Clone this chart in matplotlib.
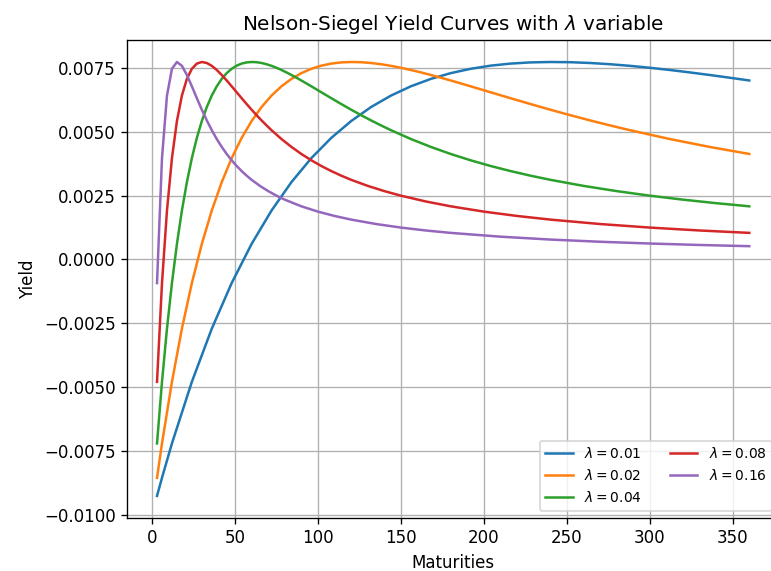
import matplotlib
matplotlib.use("Agg")
import matplotlib.pyplot as plt

labels = [r"$\lambda=0.01$", r"$\lambda=0.02$", r"$\lambda=0.04$", r"$\lambda=0.08$", r"$\lambda=0.16$"]

mat_001 = [3, 6, 12, 24, 36, 48, 60, 72, 84, 96, 108, 120, 132, 144, 156, 168, 180, 192, 204, 216, 228,
           240, 252, 264, 276, 288, 300, 312, 324, 336, 348, 360]
yld_001 = [-0.009263, -0.008553, -0.007207, -0.004794, -0.002713, -0.000925, 0.000607, 0.001915, 0.003028,
           0.003969, 0.004761, 0.005422, 0.005971, 0.006420, 0.006784, 0.007074, 0.007300, 0.007470, 0.007593,
           0.007674, 0.007721, 0.007737, 0.007729, 0.007698, 0.007650, 0.007587, 0.007511, 0.007425, 0.007330,
           0.007229, 0.007123, 0.007013]

mat_002 = [3, 6, 12, 18, 24, 30, 36, 42, 48, 54, 60, 66, 72, 78, 84, 90, 96, 102, 108, 114, 120, 126, 132,
           138, 144, 150, 156, 162, 168, 174, 180, 192, 204, 216, 228, 240, 252, 264, 276, 288, 312, 336, 360]
yld_002 = [-0.008553, -0.007207, -0.004794, -0.002713, -0.000925, 0.000607, 0.001915, 0.003028, 0.003969,
           0.004761, 0.005422, 0.005971, 0.006420, 0.006784, 0.007074, 0.007300, 0.007470, 0.007593, 0.007674,
           0.007721, 0.007737, 0.007729, 0.007698, 0.007650, 0.007587, 0.007511, 0.007425, 0.007330, 0.007229,
           0.007123, 0.007013, 0.006785, 0.006552, 0.006320, 0.006092, 0.005869, 0.005655, 0.005449, 0.005253,
           0.005066, 0.004720, 0.004411, 0.004134]

mat_004 = [3, 6, 9, 12, 15, 18, 21, 24, 27, 30, 33, 36, 39, 42, 45, 48, 51, 54, 57, 60, 63, 66, 69, 72, 75,
           78, 81, 84, 87, 90, 96, 102, 108, 114, 120, 126, 132, 138, 144, 156, 168, 180, 192, 204, 216, 228,
           240, 260, 280, 300, 320, 340, 360]
yld_004 = [-0.007207, -0.004794, -0.002713, -0.000925, 0.000607, 0.001915, 0.003028, 0.003969, 0.004761,
           0.005422, 0.005971, 0.006420, 0.006784, 0.007074, 0.007300, 0.007470, 0.007593, 0.007674, 0.007721,
           0.007737, 0.007729, 0.007698, 0.007650, 0.007587, 0.007511, 0.007425, 0.007330, 0.007229, 0.007123,
           0.007013, 0.006785, 0.006552, 0.006320, 0.006092, 0.005869, 0.005655, 0.005449, 0.005253, 0.005066,
           0.004720, 0.004411, 0.004134, 0.003886, 0.003664, 0.003465, 0.003285, 0.003122, 0.002884, 0.002679,
           0.002500, 0.002344, 0.002206, 0.002083]

mat_008 = [3, 6, 9, 12, 15, 18, 21, 24, 27, 30, 33, 36, 39, 42, 45, 48, 51, 54, 57, 60, 63, 66, 69, 72, 78,
           84, 90, 96, 102, 108, 114, 120, 130, 140, 150, 165, 180, 200, 220, 240, 270, 300, 330, 360]
yld_008 = [-0.004794, -0.000925, 0.001915, 0.003969, 0.005422, 0.006420, 0.007074, 0.007470, 0.007674,
           0.007737, 0.007698, 0.007587, 0.007425, 0.007229, 0.007013, 0.006785, 0.006552, 0.006320, 0.006092,
           0.005869, 0.005655, 0.005449, 0.005253, 0.005066, 0.004720, 0.004411, 0.004134, 0.003886, 0.003664,
           0.003465, 0.003285, 0.003122, 0.002884, 0.002679, 0.002500, 0.002273, 0.002083, 0.001875, 0.001705,
           0.001563, 0.001389, 0.001250, 0.001136, 0.001042]

mat_016 = [3, 6, 9, 12, 15, 18, 21, 24, 27, 30, 33, 36, 39, 42, 45, 48, 51, 54, 57, 60, 65, 70, 75, 80, 90,
           100, 110, 120, 135, 150, 165, 180, 210, 240, 270, 300, 330, 360]
yld_016 = [-0.000925, 0.003969, 0.006420, 0.007470, 0.007737, 0.007587, 0.007229, 0.006785, 0.006320,
           0.005869, 0.005449, 0.005066, 0.004720, 0.004411, 0.004134, 0.003886, 0.003664, 0.003465, 0.003285,
           0.003122, 0.002884, 0.002679, 0.002500, 0.002344, 0.002083, 0.001875, 0.001705, 0.001563, 0.001389,
           0.001250, 0.001136, 0.001042, 0.000893, 0.000781, 0.000694, 0.000625, 0.000568, 0.000521]

maturities = [mat_001, mat_002, mat_004, mat_008, mat_016]
yields = [yld_001, yld_002, yld_004, yld_008, yld_016]

dpi = 120
W, H = 771, 571
fig = plt.figure(figsize=(W / dpi, H / dpi), dpi=dpi)
ax = fig.add_axes([127.4 / W, (H - 517.6) / H, (778.9 - 127.4) / W, (517.6 - 40.3) / H])

for m, y, lab in zip(maturities, yields, labels):
    ax.plot(m, y, label=lab)

ax.set_title(r"Nelson-Siegel Yield Curves with $\lambda$ variable")
ax.set_xlabel("Maturities")
ax.set_ylabel("Yield")
ax.grid(True)
ax.legend(loc="lower right", ncol=2, fontsize="small")

fig.savefig("out.png", dpi=dpi)
